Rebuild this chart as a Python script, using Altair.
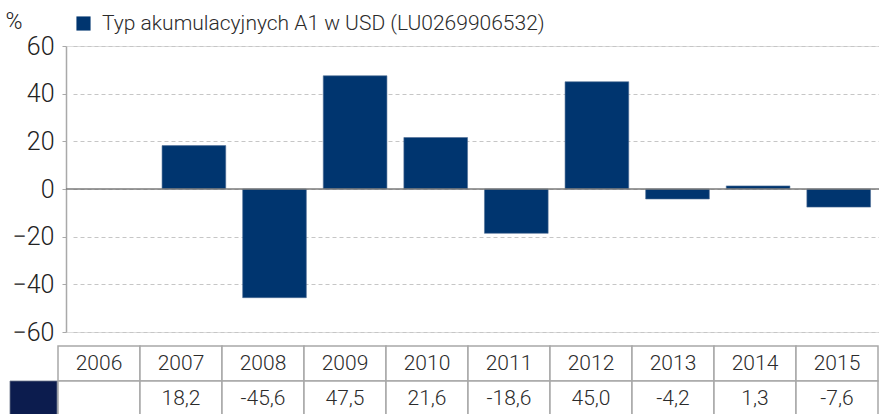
import altair as alt
import pandas as pd

years = ["2006", "2007", "2008", "2009", "2010", "2011", "2012", "2013", "2014", "2015"]
values = [None, 18.2, -45.6, 47.5, 21.6, -18.6, 45.0, -4.2, 1.3, -7.6]
value_labels = ["", "18,2", "-45,6", "47,5", "21,6", "-18,6", "45,0", "-4,2", "1,3", "-7,6"]
y_ticks = [-60, -40, -20, 0, 20, 40, 60]
series_name = "Typ akumulacyjnych A1 w USD (LU0269906532)"

FONT = "Roboto"
BAR = "#00356f"
DARK = "#0c1c4e"
GRID = "#c6c6c6"
BORDER = "#a8a8a8"
TXT = "#2b2b2b"

bars_df = pd.DataFrame({"year": years, "value": values, "series": series_name}).dropna()

table_rows = []
for y, lab in zip(years, value_labels):
    table_rows.append({"year": y, "row": "year", "label": y})
    table_rows.append({"year": y, "row": "value", "label": lab})
table_df = pd.DataFrame(table_rows)

W, H = 813, 286

bars = alt.Chart(bars_df).mark_bar(stroke="#4f6f96", strokeWidth=0.6).encode(
    x=alt.X("year:N", sort=years,
            scale=alt.Scale(domain=years, range=[7, W], paddingInner=0.21, paddingOuter=0.105),
            axis=None),
    y=alt.Y("value:Q",
            scale=alt.Scale(domain=[-60, 60], nice=False, zero=False),
            axis=alt.Axis(values=y_ticks, grid=True, gridColor=GRID, gridDash=[4, 3], gridWidth=1,
                          domainColor="#a9a9a9", domainWidth=1.5, tickColor="#a9a9a9", tickSize=4,
                          labelFont=FONT, labelFontSize=25, labelFontWeight=300, labelColor="#222222",
                          labelPadding=8,
                          title="%", titleAngle=0, titleX=-61, titleY=-18, titleAlign="left",
                          titleBaseline="alphabetic", titleFont=FONT, titleFontSize=23,
                          titleFontWeight=300, titleColor="#222222")),
    color=alt.Color("series:N", scale=alt.Scale(range=[BAR]),
                    legend=alt.Legend(orient="none", legendX=7, legendY=-33, title=None,
                                      symbolType="square", symbolSize=200, symbolStrokeWidth=0,
                                      symbolOpacity=1, labelLimit=0,
                                      labelFont=FONT, labelFontSize=21, labelFontWeight=300,
                                      labelColor=TXT, labelOffset=8, padding=0)),
)

zero = alt.Chart(pd.DataFrame({"v": [0]})).mark_rule(color="#7a7a7a", strokeWidth=1.5).encode(
    y=alt.Y("v:Q", scale=alt.Scale(domain=[-60, 60], nice=False, zero=False), axis=None)
)

tx_scale = alt.Scale(type="band", domain=years, range=[-8, W - 1], padding=0)
ty_scale = alt.Scale(type="band", domain=["year", "value"], range=[300, 370], padding=0)

cells = alt.Chart(table_df).mark_rect(fill="white", stroke=BORDER, strokeWidth=1.5).encode(
    x=alt.X("year:N", sort=years, scale=tx_scale, axis=None),
    y=alt.Y("row:N", scale=ty_scale, axis=None))
texts = alt.Chart(table_df).mark_text(font=FONT, fontSize=21, fontWeight=300, color=TXT,
                                      align="center", baseline="middle").encode(
    x=alt.X("year:N", sort=years, scale=tx_scale, axis=None, bandPosition=0.5),
    y=alt.Y("row:N", scale=ty_scale, axis=None, bandPosition=0.5),
    text="label:N")
swatch = alt.Chart(pd.DataFrame({"row": ["value"]})).mark_rect(fill=DARK, stroke="#6a7488", strokeWidth=0.8).encode(
    x=alt.value(-56), x2=alt.value(-9),
    y=alt.Y("row:N", scale=ty_scale, axis=None))

chart = alt.layer(bars, zero, cells, texts, swatch).resolve_scale(
    x="independent", y="independent", color="independent"
).properties(
    width=W, height=H,
    padding={"left": 66, "top": 46, "right": 0, "bottom": 82},
    autosize=alt.AutoSizeParams(type="none"),
).configure_view(stroke=None).configure(background="white")

chart.save("out.html", embed_options={"renderer": "svg", "actions": False})
